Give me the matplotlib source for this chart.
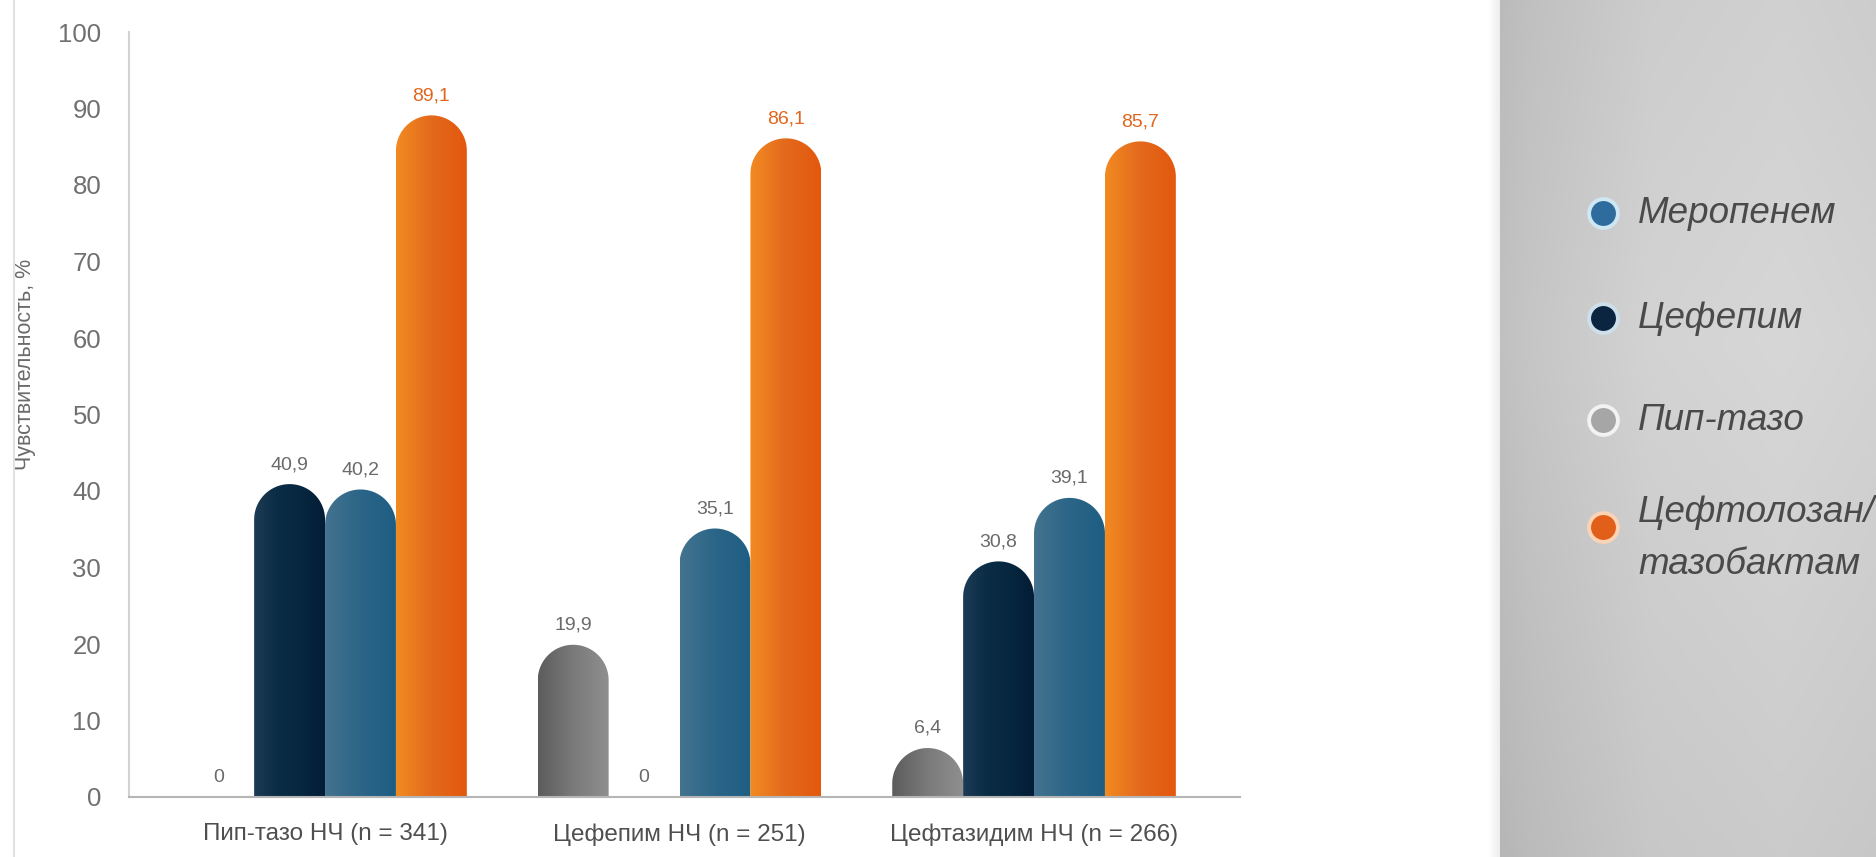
import numpy as np
import matplotlib.pyplot as plt
from matplotlib.colors import LinearSegmentedColormap
from matplotlib.path import Path
from matplotlib.patches import PathPatch
from matplotlib.lines import Line2D

plt.rcParams['font.family'] = ['Liberation Sans', 'DejaVu Sans']

# data
categories = ['Пип-тазо НЧ (n = 341)', 'Цефепим НЧ (n = 251)', 'Цефтазидим НЧ (n = 266)']
pip_tazo = [0, 19.9, 6.4]
cefepim = [40.9, 0, 30.8]
meropenem = [40.2, 35.1, 39.1]
ceftolozan = [89.1, 86.1, 85.7]

series_values = [pip_tazo, cefepim, meropenem, ceftolozan]
gradients = [
    ['#5c5c5c', '#7a7a7a', '#8f8f8f'],
    ['#1d3b56', '#0a2c45', '#06273f', '#031d36'],
    ['#44738f', '#2b6587', '#1e5e83'],
    ['#f28b22', '#e3691d', '#e4580c'],
]
label_colors = ['#6a6a6a', '#6a6a6a', '#6a6a6a', '#e0661e']

# legend entries (top to bottom)
legend_labels = [['Меропенем'], ['Цефепим'], ['Пип-тазо'], ['Цефтолозан/', 'тазобактам']]
legend_dot = ['#2d6c9c', '#0b2440', '#a6a6a6', '#e15f18']
legend_ring = ['#cfe6f3', '#cddfea', '#f2f2f2', '#fbd3b5']

W, H = 1876, 857
fig = plt.figure(figsize=(W / 100, H / 100), dpi=100)
fig.patch.set_facecolor('white')

# grey panel on the right
panel = fig.add_axes([1500 / W, 0, 376 / W, 1], zorder=0)
xs = np.linspace(0, 1, 200)
ys = np.linspace(0, 1, 200)
hprof = np.interp(xs, [0, 0.08, 0.4, 0.75, 1], [0.745, 0.765, 0.815, 0.83, 0.815])
vprof = np.interp(ys, [0, 0.4, 1], [0.985, 1.015, 0.96])
img = np.clip(np.outer(vprof, hprof), 0, 1)
panel.imshow(np.dstack([img, img, img]), aspect='auto', extent=(0, 1, 0, 1), origin='upper')
panel.set_axis_off()

shadow = fig.add_axes([1488 / W, 0, 12 / W, 1], zorder=0)
sh = np.linspace(1.0, 0.93, 50)
shadow.imshow(np.dstack([np.tile(sh, (2, 1))] * 3), aspect='auto', extent=(0, 1, 0, 1))
shadow.set_axis_off()

fig.add_artist(Line2D([14 / W, 14 / W], [0, 1], color='#e2e2e2', lw=1.5))

ax = fig.add_axes([129 / W, 60 / H, (1240 - 129) / W, 765 / H], zorder=2)
ax.patch.set_alpha(0)
xlim = (-0.553, 2.581)
ax.set_xlim(*xlim)
ax.set_ylim(0, 100)

x = np.arange(len(categories))
width = 0.2

for i, vals in enumerate(series_values):
    off = (i - 1.5) * width
    bars = ax.bar(x + off, vals, width, color='none')
    cmap = LinearSegmentedColormap.from_list('g%d' % i, gradients[i])
    for rect, v in zip(bars, vals):
        rect.set_visible(False)
        x0, w, h = rect.get_x(), rect.get_width(), rect.get_height()
        xc = x0 + w / 2
        ax.annotate(f'{v:g}'.replace('.', ','), (xc, h), xytext=(0, 8),
                    textcoords='offset points', ha='center', va='bottom',
                    fontsize=14, color=label_colors[i])
        if h <= 0:
            continue
        # round cap: half-ellipse that looks circular on screen
        p0 = ax.transData.transform((x0, 0))
        p1 = ax.transData.transform((x0 + w, 1))
        ry = min((p1[0] - p0[0]) / 2 / (p1[1] - p0[1]), h)
        rx = w / 2
        t = np.linspace(np.pi, 0, 60)
        verts = [(x0, 0), (x0, h - ry)]
        verts += list(zip(xc + rx * np.cos(t), h - ry + ry * np.sin(t)))
        verts += [(x0 + w, 0), (x0, 0)]
        patch = PathPatch(Path(verts), transform=ax.transData, facecolor='none', edgecolor='none')
        ax.add_patch(patch)
        im = ax.imshow(np.linspace(0, 1, 256)[None, :], cmap=cmap, aspect='auto',
                       extent=(x0, x0 + w, 0, h), zorder=2)
        im.set_clip_path(patch)

ax.set_xlim(*xlim)
ax.set_ylim(0, 100)
ax.set_yticks(np.arange(0, 101, 10))
ax.set_xticks(x)
ax.set_xticklabels(categories)
ax.tick_params(axis='y', length=0, pad=20, labelsize=18.5, labelcolor='#707070')
ax.tick_params(axis='x', length=0, pad=19, labelsize=17.5, labelcolor='#4f4f4f')
for s in ['top', 'right']:
    ax.spines[s].set_visible(False)
ax.spines['left'].set_color('#d2d2d2')
ax.spines['left'].set_linewidth(1.5)
ax.spines['bottom'].set_color('#b5b5b5')
ax.spines['bottom'].set_linewidth(1.5)

fig.text(26 / W, 1 - 364 / H, 'Чувствительность, %', rotation=90, ha='center', va='center',
         fontsize=15.5, color='#6a6a6a')

# legend in the grey panel (pixel coordinates)
lg = fig.add_axes([0, 0, 1, 1], zorder=3)
lg.set_xlim(0, W)
lg.set_ylim(H, 0)
lg.set_axis_off()
lg.patch.set_alpha(0)
row_y = [213, 318, 420, 527]
for j, lines in enumerate(legend_labels):
    lg.scatter([1603], [row_y[j]], s=430, color=legend_dot[j], edgecolors=legend_ring[j],
               linewidths=2.8, zorder=3)
    if len(lines) == 1:
        lg.text(1638, row_y[j], lines[0], ha='left', va='center', fontsize=26.5,
                style='italic', color='#4a4a4a')
    else:
        for k, line in enumerate(lines):
            lg.text(1638, row_y[j] - 15 + 53 * k, line, ha='left', va='center', fontsize=26.5,
                    style='italic', color='#4a4a4a')

fig.savefig('out.png', dpi=100)
